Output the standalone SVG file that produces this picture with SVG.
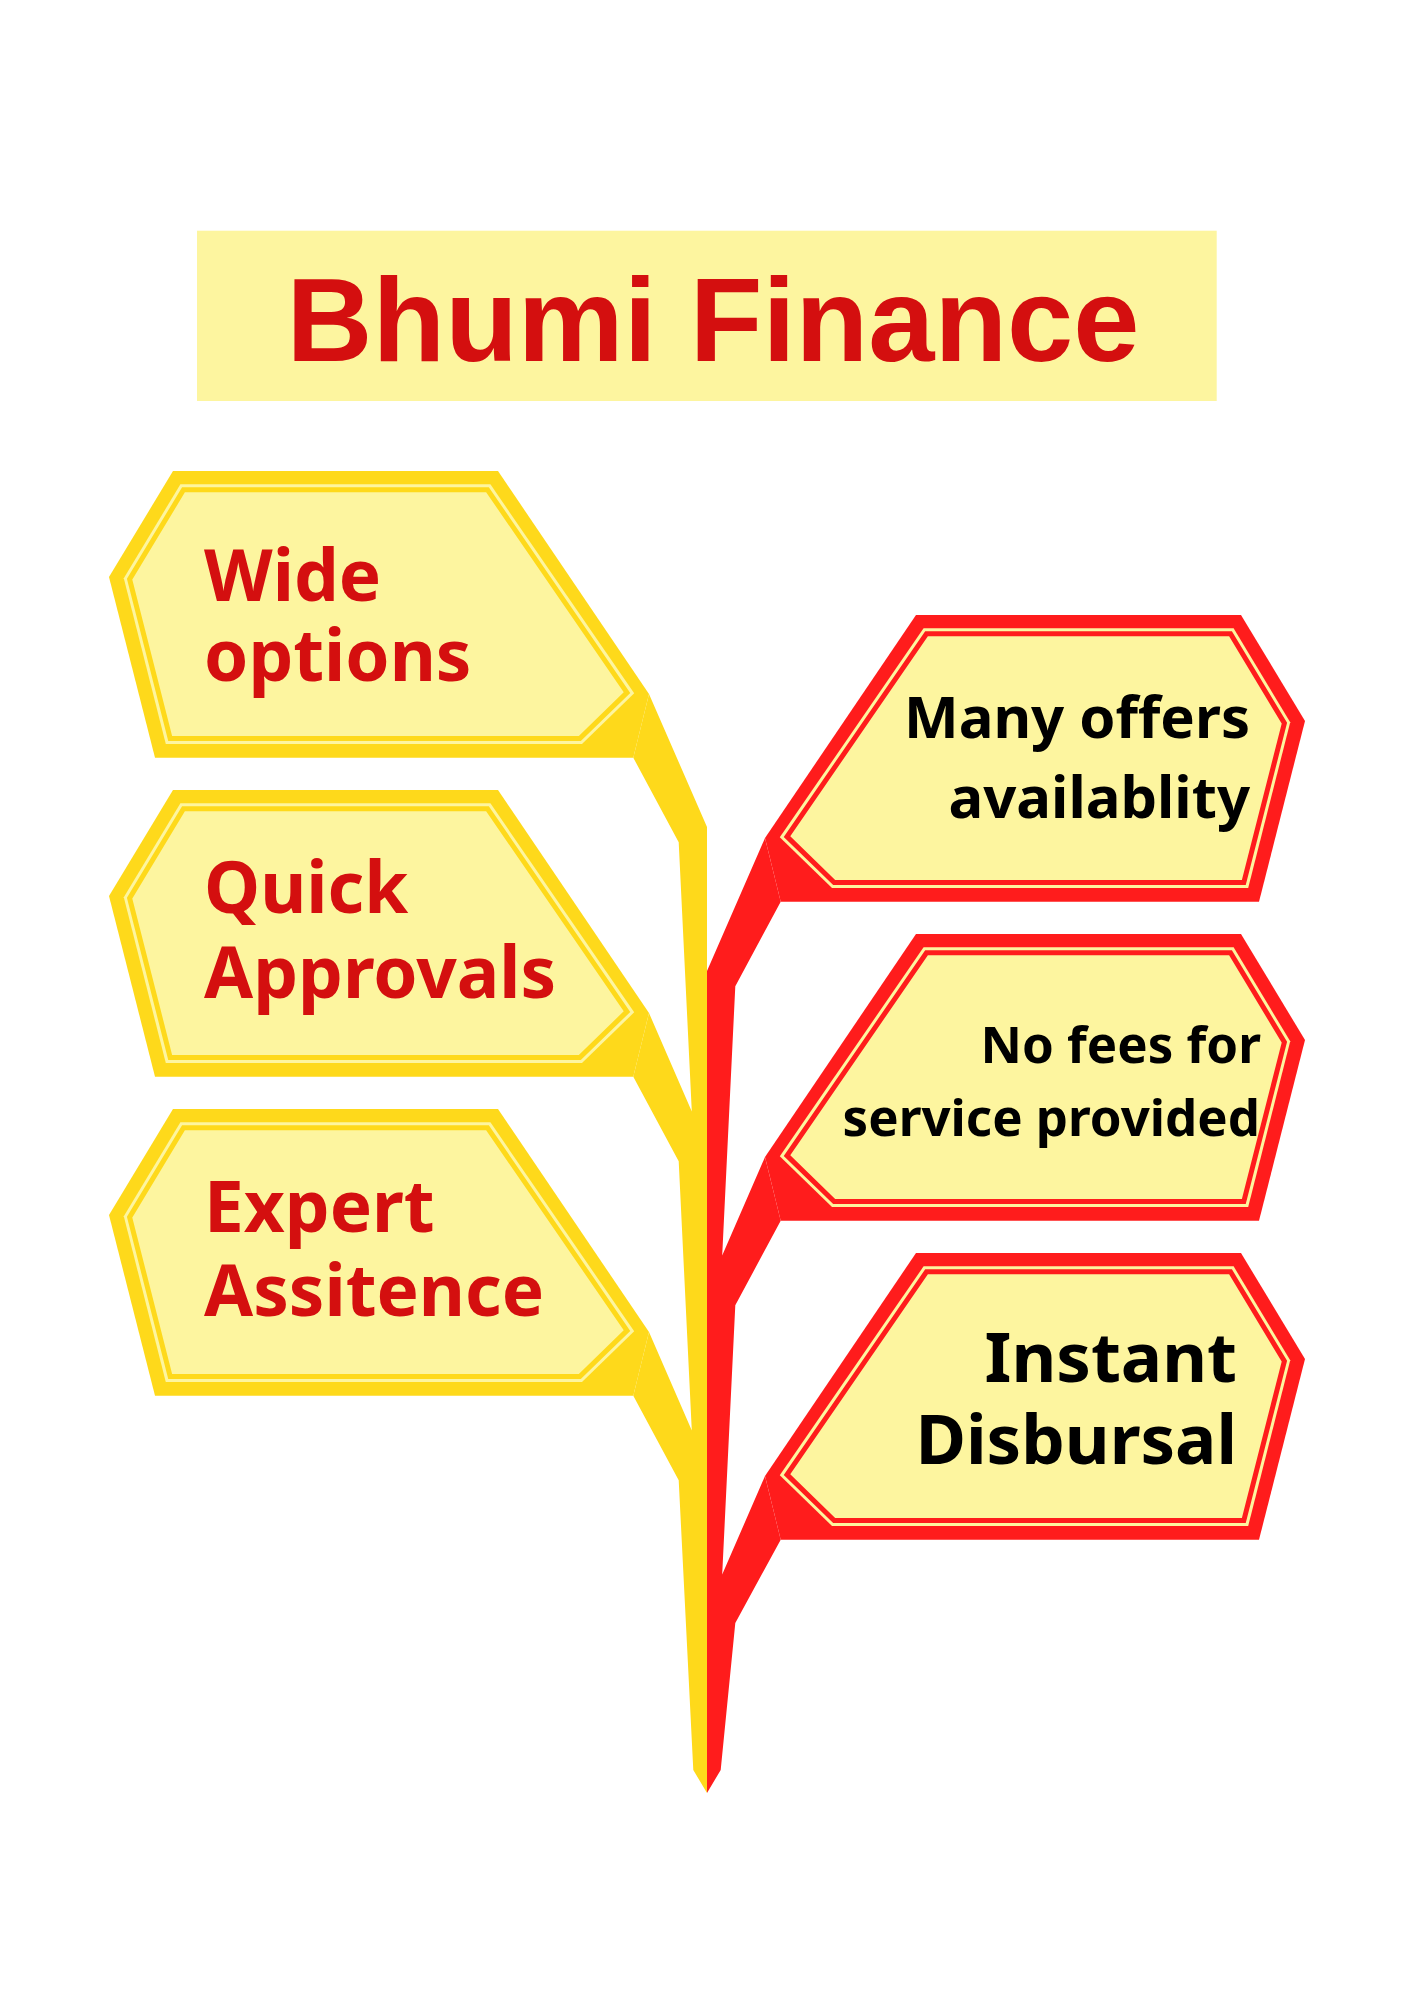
<svg xmlns="http://www.w3.org/2000/svg" xmlns:xlink="http://www.w3.org/1999/xlink" width="1414" height="2000" viewBox="0 0 1414 2000">
<style>
.y{color:#FED91B}
.r{color:#FF1C1C}
.pale{fill:#FDF59F}
.title{font-family:"Liberation Sans",Arial,sans-serif;font-weight:bold;font-size:119px;fill:#D40F0F}
.lt{font-family:"Noto Sans","Open Sans",sans-serif;font-weight:bold;font-size:71px;fill:#D40F0F}
.rt{font-family:"Noto Sans","Open Sans",sans-serif;font-weight:bold;fill:#000000;text-anchor:end}
</style>
<defs>
<g id="sign">
<polygon points="173,471 498,471 649,694 633.3,757.7 155,757.7 109,577" fill="currentColor"/>
<polygon class="pale" points="180.4,484.3 490.4,484.3 634.2,693.3 582,744 165.8,744 123.8,578.3"/>
<polygon class="pale" points="183.5,489.8 487.5,489.8 627,692.6 579.8,738.5 170.2,738.5 129.6,579.2" stroke="currentColor" stroke-width="5" stroke-linejoin="miter"/>
</g>
</defs>
<rect width="1414" height="2000" fill="#FFFFFF"/>
<g id="title">
<rect x="197" y="230.7" width="1019.7" height="170.3" class="pale"/>
<text class="title" x="713" y="360.7" text-anchor="middle">Bhumi Finance</text>
</g>
<g id="connectors">
<path fill="#FED91B" d="M649,694 L707,827 L707,1793 L693.3,1770 L678.7,1480.3 L633.3,1395.7 L649,1332 L691.8,1430.5 L678.7,1161.3 L633.3,1076.7 L649,1013 L691.8,1111.5 L678.7,842.3 L633.3,757.7 Z"/>
<path fill="#FF1C1C" d="M765,838 L707,971 L707,1793 L720.7,1770 L735.3,1623 L780.7,1539.7 L765,1476 L722.2,1574.5 L735.3,1305.3 L780.7,1220.7 L765,1157 L722.2,1255.5 L735.3,986.3 L780.7,901.7 Z"/>
</g>
<g id="node-wide-options">
<use xlink:href="#sign" href="#sign" class="y"/>
<text class="lt" x="204" y="600.7">Wide</text>
<text class="lt" x="204" y="680.7">options</text>
</g>
<g id="node-quick-approvals">
<use xlink:href="#sign" href="#sign" class="y" transform="translate(0,319)"/>
<text class="lt" x="204" y="912.7">Quick</text>
<text class="lt" x="204" y="998.3">Approvals</text>
</g>
<g id="node-expert-assitence">
<use xlink:href="#sign" href="#sign" class="y" transform="translate(0,638)"/>
<text class="lt" x="204" y="1231.7">Expert</text>
<text class="lt" x="204" y="1316">Assitence</text>
</g>
<g id="node-many-offers">
<use xlink:href="#sign" href="#sign" class="r" transform="translate(1414,144) scale(-1,1)"/>
<text class="rt" x="1250" y="738.3" font-size="58">Many offers</text>
<text class="rt" x="1250" y="818.3" font-size="58">availablity</text>
</g>
<g id="node-no-fees">
<use xlink:href="#sign" href="#sign" class="r" transform="translate(1414,463) scale(-1,1)"/>
<text class="rt" x="1261" y="1063.3" font-size="51">No fees for</text>
<text class="rt" x="1260" y="1136" font-size="51">service provided</text>
</g>
<g id="node-instant-disbursal">
<use xlink:href="#sign" href="#sign" class="r" transform="translate(1414,782) scale(-1,1)"/>
<text class="rt" x="1237" y="1381.7" font-size="69">Instant</text>
<text class="rt" x="1237" y="1464" font-size="69">Disbursal</text>
</g>
</svg>
